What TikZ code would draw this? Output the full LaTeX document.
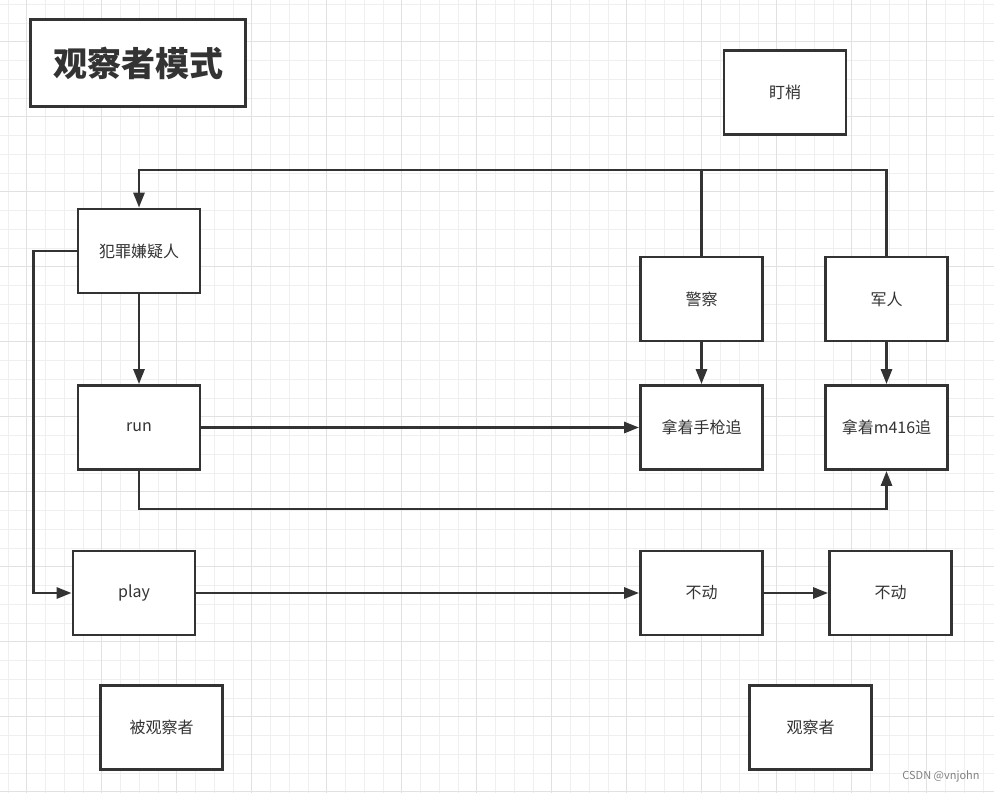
\documentclass[tikz,border=0pt]{standalone}
\usepackage{fontspec}
\newfontfamily\cjk{Noto Sans CJK SC}
\usetikzlibrary{arrows.meta}

\definecolor{ink}{HTML}{333333}
\definecolor{gridminor}{HTML}{EFEFEF}
\definecolor{gridmajor}{HTML}{E1E1E1}

\tikzset{
  box/.style = {draw = ink, line width = 2.8pt, fill = white, inner sep = 0pt,
                minimum width = 122pt, minimum height = 84pt,
                text = ink, font = \cjk\fontsize{16}{19}\selectfont},
  wire/.style = {draw = ink, line width = 2.8pt},
  flow/.style = {wire, -{Triangle[length = 15pt, width = 11pt]}},
}

\begin{document}
\begin{tikzpicture}[x = 1pt, y = -1pt]
            \useasboundingbox (0,0) rectangle (994,793);
            % grid paper
            \foreach \i in {0,...,52} \draw[gridminor, line width = 0.8pt] ({7.95+18.75*\i},0) -- ++(0,793);
            \foreach \i in {0,...,42} \draw[gridminor, line width = 0.8pt] (0,{4.2+18.75*\i}) -- ++(994,0);
            \foreach \i in {0,...,12} \draw[gridmajor, line width = 0.8pt] ({26.7+75*\i},0) -- ++(0,793);
            \foreach \i in {0,...,10} \draw[gridmajor, line width = 0.8pt] (0,{41.7+75*\i}) -- ++(994,0);

            \node[box, minimum width = 215pt, minimum height = 87pt, font = \cjk\bfseries\fontsize{34}{40}\selectfont] (title) at (138,63) {观察者模式};
            \node[box] (watch) at (785,92.5) {盯梢};
            \node[box] (suspect) at (139,251) {犯罪嫌疑人};
            \node[box] (police) at (701.5,299) {警察};
            \node[box] (soldier) at (886.5,299) {军人};
            \node[box] (run) at (139,427.5) {run};
            \node[box] (pistol) at (701.5,427.5) {拿着手枪追};
            \node[box] (rifle) at (886.5,427.5) {拿着m416追};
            \node[box] (play) at (134,593) {play};
            \node[box] (still1) at (701.5,593) {不动};
            \node[box] (still2) at (890.5,593) {不动};
            \node[box] (subject) at (161.5,727.5) {被观察者};
            \node[box] (observer) at (810.5,727.5) {观察者};
            \node[text = gray, font = \cjk\fontsize{11}{13}\selectfont] (mark) at (941,776) {CSDN @vnjohn};

            \coordinate (topline) at (0,170);
            \draw[flow] (soldier.north) |- (suspect.north |- topline) -- (suspect.north);
            \draw[wire] (police.north) -- (police.north |- topline);
            \draw[flow] (suspect.south) -- (run.north);
            \draw[flow] (suspect.west) -- ++(-43,0) |- (play.west);
            \draw[flow] (run.east) -- (pistol.west);
            \draw[flow] (run.south) -- ++(0,38) -| (rifle.south);
            \draw[flow] (police.south) -- (pistol.north);
            \draw[flow] (soldier.south) -- (rifle.north);
            \draw[flow] (play.east) -- (still1.west);
            \draw[flow] (still1.east) -- (still2.west);
            \end{tikzpicture}
\end{document}
